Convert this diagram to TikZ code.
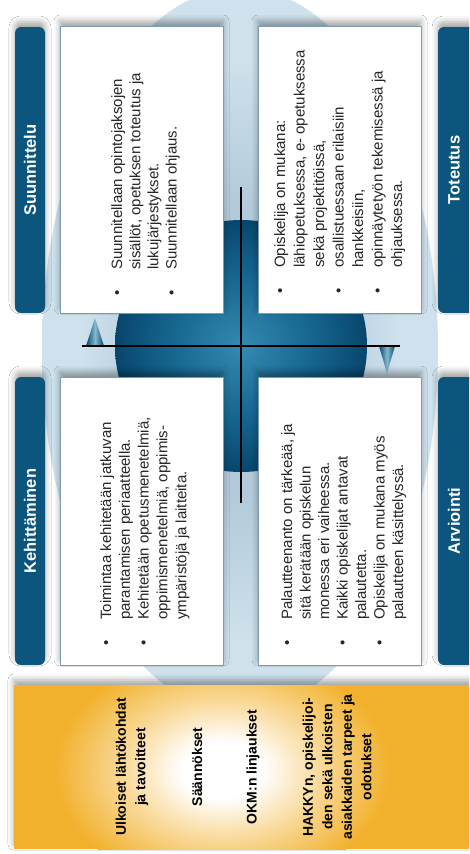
\documentclass[tikz,border=0pt]{standalone}
\usepackage{fontspec}
\setmainfont{Liberation Sans}
\usetikzlibrary{shadows.blur}

\definecolor{tabblue}{RGB}{12,86,126}
\definecolor{haze}{RGB}{206,225,236}
\definecolor{hazedark}{RGB}{178,202,218}
\definecolor{orbin}{RGB}{52,138,176}
\definecolor{orbmid}{RGB}{22,102,144}
\definecolor{orbout}{RGB}{8,70,108}
\definecolor{cardline}{RGB}{125,155,172}
\definecolor{amber}{RGB}{242,177,44}

\pgfdeclareradialshading{hazeshade}{\pgfpoint{0bp}{0bp}}{color(0bp)=(hazedark);color(10bp)=(hazedark);color(20bp)=(haze);color(50bp)=(haze)}
\pgfdeclareradialshading{orbshade}{\pgfpoint{0bp}{0bp}}{color(0bp)=(orbin);color(14bp)=(orbmid);color(25bp)=(orbout);color(50bp)=(orbout)}
\pgfdeclareradialshading{glowshade}{\pgfpoint{0bp}{0bp}}{color(0bp)=(white);color(6bp)=(white);color(14bp)=(amber!45!white);color(25bp)=(amber);color(50bp)=(amber)}

\newcommand{\itm}{\llap{\textbullet\hspace{20pt}}}

\tikzset{
    softshadow/.style={blur shadow={shadow xshift=0pt, shadow yshift=5pt, shadow blur radius=6pt, shadow opacity=35}},
    card/.style={draw=cardline, line width=0.8pt, fill=white, softshadow},
    tab/.style={fill=tabblue, rounded corners=6pt, softshadow},
    tablabel/.style={rotate=90, text=white, inner sep=0pt, font=\bfseries\fontsize{16.5}{18}\selectfont},
    bullets/.style={rotate=90, anchor=north west, align=left, inner sep=0pt, text=black!85, font=\fontsize{15}{#1}\selectfont},
    source/.style={rotate=90, align=center, inner sep=0pt, font=\bfseries\fontsize{14}{19.5}\selectfont},
    tip/.style={left color=orbout, right color=orbout, middle color=orbin!60!white}
}

\begin{document}
\begin{tikzpicture}[x=1pt,y=-1pt]
    % Page
    \useasboundingbox (0,0) rectangle (469,854);
    \clip (0,0) rectangle (469,854);
    \fill[white] (0,0) rectangle (469,854);
    % Haze and orb
    \shade[shading=hazeshade] (240,350) ellipse (198 and 362);
    \shade[shading=orbshade] (241,346) circle (126);
    % Arrow tips
    \shade[tip] (86,346) -- (95,318) -- (104,346) -- cycle;
    \shade[tip] (379,346) -- (387,373) -- (395,346) -- cycle;
    % Cross
    \coordinate (top) at (241,187);
    \coordinate (bottom) at (241,503);
    \coordinate (left) at (82,346);
    \coordinate (right) at (400,346);
    \draw[line width=1.4pt] (top) -- (bottom);
    \draw[line width=1.4pt] (left) -- (right);
    % Cards
    \path[card] (60,26) rectangle (223,313);
    \path[card] (258,26) rectangle (421,313);
    \path[card] (60,377) rectangle (223,665);
    \path[card] (258,377) rectangle (421,665);
    % Tabs
    \path[tab] (15,27) rectangle (45,313);
    \path[tab] (15,377) rectangle (45,665);
    \path[tab] (438,27) rectangle (490,313);
    \path[tab] (438,377) rectangle (490,665);
    \node[tablabel] (plan) at (30,170) {Suunnittelu};
    \node[tablabel] (develop) at (30,521) {Kehittäminen};
    \node[tablabel] (execute) at (454,170) {Toteutus};
    \node[tablabel] (assess) at (454,521) {Arviointi};
    % Card texts
    \node[bullets=18.2] (plantext) at (111,270)
        {\itm Suunnitellaan opintojaksojen\\sisällöt, opetuksen toteutus ja\\lukujärjestykset.\\\itm Suunnitellaan ohjaus.};
    \node[bullets=19.5] (executetext) at (274,268)
        {\itm Opiskelija on mukana:\\lähiopetuksessa, e- opetuksessa\\sekä projektitöissä,\\\itm osallistuessaan erilaisiin\\hankkeisiin,\\\itm opinnäytetyön tekemisessä ja\\ohjauksessa.};
    \node[bullets=18.8] (developtext) at (100,620)
        {\itm Toimintaa kehitetään jatkuvan\\parantamisen periaatteella.\\\itm Kehitetään opetusmenetelmiä,\\oppimismenetelmiä, oppimis-\\ympäristöjä ja laitteita.};
    \node[bullets=18.5] (assesstext) at (281,620)
        {\itm Palautteenanto on tärkeää, ja\\sitä kerätään opiskelun\\monessa eri vaiheessa.\\\itm Kaikki opiskelijat antavat\\palautetta.\\\itm Opiskelija on mukana myös\\palautteen käsittelyssä.};
    % Outside sources
    \path[softshadow, fill=amber] (14,685) rectangle (490,849);
    \begin{scope}
        \clip (14,685) rectangle (490,849);
        \shade[shading=glowshade] (222,770) ellipse (168 and 118);
    \end{scope}
    \node[source] (goals) at (132,767) {Ulkoiset lähtökohdat\\ja tavoitteet};
    \node[source] (rules) at (197,767) {Säännökset};
    \node[source] (policy) at (253,767) {OKM:n linjaukset};
    \node[source] (needs) at (337,767) {HAKKYn, opiskelijoi-\\den sekä ulkoisten\\asiakkaiden tarpeet ja\\odotukset};
\end{tikzpicture}
\end{document}
